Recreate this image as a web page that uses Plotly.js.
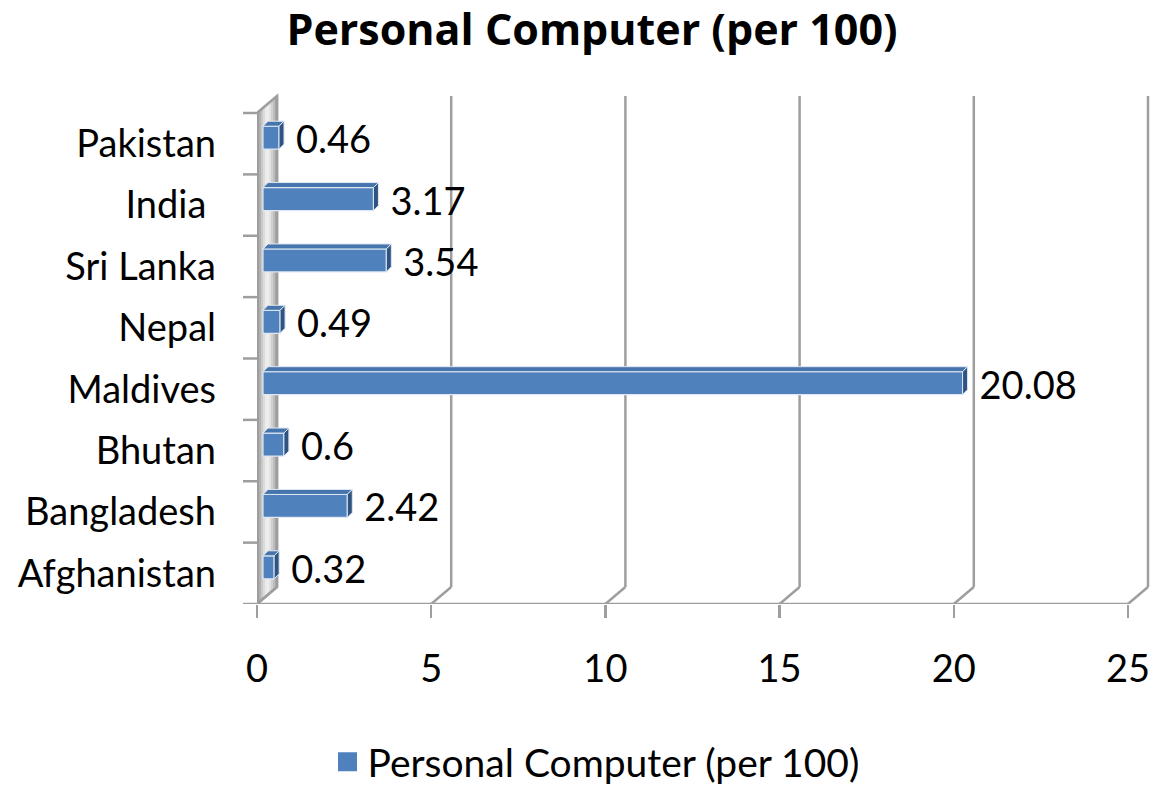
<!DOCTYPE html>
<html>
<head>
<meta charset="utf-8">
<script src="https://cdn.plot.ly/plotly-3.0.1.min.js"></script>
<style>
  html, body { margin: 0; padding: 0; background: #ffffff; }
  #chart { width: 1160px; height: 786px; }
</style>
</head>
<body>
<div id="chart"></div>
<script>
// Personal computers per 100 people, South Asian countries
const categories = ['Afghanistan', 'Bangladesh', 'Bhutan', 'Maldives', 'Nepal', 'Sri Lanka', 'India\u00a0', 'Pakistan'];
const values = [0.32, 2.42, 0.6, 20.08, 0.49, 3.54, 3.17, 0.46];
const xTicks = [0, 5, 10, 15, 20, 25];
const seriesName = 'Personal Computer (per 100)';

// Page and plot-area geometry (pixels)
const W = 1160, H = 786;
const M = { l: 257, r: 0, t: 90, b: 182, autoexpand: false };
const plotW = W - M.l - M.r, plotH = H - M.t - M.b;
const nCat = categories.length;
const xMax = xTicks[xTicks.length - 1];
const PX_X = 871 / xMax;          // pixels per x unit on the front floor edge
const PX_Y = 491 / nCat;          // pixels per category slot
const ux = p => p / PX_X;         // pixel offset -> x data units
const uy = p => p / PX_Y;         // pixel offset -> category units

// Pseudo-3D depth offsets (pixels)
const WALL_DX = 20, WALL_DY = 17;      // back wall
const BAR_DX = 6, BAR_DY = 6;          // bar front face
const SIDE_DX = 5, SIDE_DY = 5;        // bar top/side thickness
const BAR_H = 23;                      // bar front face height

const yLo = -0.5, yHi = nCat - 0.5;
const grid = '#9e9e9e';
const REG = 'Lato, sans-serif';
const BLUE = '#4f81bd';

const shapes = [];

// Left wall, shaded in vertical strips
const wallCols = ['#999999', '#b0b0b0', '#c8c8c8', '#dcdcdc', '#ebebeb', '#eeeeee', '#e2e2e2', '#d0d0d0', '#bdbdbd', '#a8a8a8'];
const dxW = ux(WALL_DX), dyW = uy(WALL_DY);
wallCols.forEach((c, s) => {
  const f0 = s / wallCols.length, f1 = (s + 1) / wallCols.length;
  const x0 = dxW * f0, x1 = dxW * f1;
  shapes.push({
    type: 'path', xref: 'x', yref: 'y', layer: 'below',
    path: `M${x0},${yLo + f0 * dyW} L${x1},${yLo + f1 * dyW} L${x1},${yHi + f1 * dyW} L${x0},${yHi + f0 * dyW} Z`,
    fillcolor: c, line: { width: 0 }
  });
});
// wall outline
shapes.push({
  type: 'path', xref: 'x', yref: 'y', layer: 'below',
  path: `M0,${yLo} L0,${yHi} L${dxW},${yHi + dyW} L${dxW},${yLo + dyW} Z`,
  fillcolor: 'rgba(0,0,0,0)', line: { color: grid, width: 2.5 }
});

// Back-wall gridlines and floor diagonals
xTicks.forEach(t => {
  shapes.push({
    type: 'line', xref: 'x', yref: 'y', layer: 'below',
    x0: t + dxW, x1: t + dxW, y0: yLo + dyW, y1: yHi + dyW,
    line: { color: grid, width: 2.5 }
  });
  shapes.push({
    type: 'line', xref: 'x', yref: 'y', layer: 'below',
    x0: t, x1: t + dxW, y0: yLo, y1: yLo + dyW,
    line: { color: grid, width: 2.5 }
  });
});
// Front floor edge
shapes.push({
  type: 'line', xref: 'x', yref: 'y', layer: 'below',
  x0: 0, x1: xMax, y0: yLo, y1: yLo,
  line: { color: grid, width: 2.5 }
});
// Front left edge
shapes.push({
  type: 'line', xref: 'x', yref: 'y', layer: 'below',
  x0: 0, x1: 0, y0: yLo, y1: yHi,
  line: { color: grid, width: 3.5 }
});
// Category-boundary ticks on the left edge
for (let k = 0; k <= nCat; k++) {
  shapes.push({
    type: 'line', xref: 'paper', yref: 'y', layer: 'below',
    x0: -14 / plotW, x1: 0, y0: yLo + k, y1: yLo + k,
    line: { color: grid, width: 2.5 }
  });
}

// Bars
const idx = categories.map((_, i) => i);
const bx0 = ux(BAR_DX);
const barY = idx.map(i => i + uy(BAR_DY));
const hh = uy(BAR_H) / 2;
const sdx = ux(SIDE_DX), sdy = uy(SIDE_DY);

const topX = [], topY = [], sideX = [], sideY = [];
values.forEach((v, i) => {
  const yt = barY[i] + hh, yb = barY[i] - hh, xe = bx0 + v;
  topX.push(bx0, xe, xe + sdx, bx0 + sdx, bx0, null);
  topY.push(yt, yt, yt + sdy, yt + sdy, yt, null);
  sideX.push(xe, xe, xe + sdx, xe + sdx, xe, null);
  sideY.push(yb, yt, yt + sdy, yb + sdy, yb, null);
});

const traces = [
  {
    type: 'bar', orientation: 'h', name: seriesName,
    x: values, y: barY, base: bx0, width: uy(BAR_H),
    marker: { color: BLUE, line: { color: '#dfe8f3', width: 1.2 } },
    hoverinfo: 'skip', showlegend: false
  },
  {
    type: 'scatter', mode: 'lines', x: topX, y: topY, fill: 'toself',
    fillcolor: '#4675ad', line: { color: '#dfe8f3', width: 1 },
    hoverinfo: 'skip', showlegend: false
  },
  {
    type: 'scatter', mode: 'lines', x: sideX, y: sideY, fill: 'toself',
    fillcolor: '#2f5482', line: { color: '#dfe8f3', width: 1 },
    hoverinfo: 'skip', showlegend: false
  },
  {
    type: 'scatter', mode: 'text',
    x: values.map(v => bx0 + v + sdx + ux(12)), y: idx,
    text: values.map(v => String(v)), textposition: 'middle right',
    textfont: { family: REG, size: 38, color: '#000000' },
    cliponaxis: false, hoverinfo: 'skip', showlegend: false
  },
  // legend key for the bar series
  {
    type: 'scatter', mode: 'markers', name: seriesName,
    x: [null], y: [null],
    marker: { symbol: 'square', size: 16, color: BLUE, line: { color: BLUE, width: 3 } },
    hoverinfo: 'skip', showlegend: true
  }
];

const layout = {
  width: W, height: H,
  margin: M,
  paper_bgcolor: '#ffffff', plot_bgcolor: 'rgba(0,0,0,0)',
  font: { family: REG, color: '#000000' },
  title: {
    text: '<b>' + seriesName + '</b>',
    font: { family: '"Open Sans", sans-serif', size: 43, color: '#000000' },
    x: 592 / W, xanchor: 'center', xref: 'container',
    y: 1 - 30 / H, yanchor: 'middle', yref: 'container'
  },
  xaxis: {
    type: 'linear', autorange: false,
    range: [0, plotW / PX_X], fixedrange: true,
    tickmode: 'array', tickvals: xTicks, ticktext: xTicks.map(String),
    ticks: 'outside', ticklen: 13, tickwidth: 2.5, tickcolor: grid,
    ticklabelstandoff: 18,
    tickfont: { family: REG, size: 38, color: '#000000' },
    showgrid: false, zeroline: false, showline: false
  },
  yaxis: {
    type: 'linear', autorange: false,
    range: [yLo, yLo + plotH / PX_Y], fixedrange: true,
    tickmode: 'array', tickvals: idx, ticktext: categories,
    ticks: '', ticklabelstandoff: 40,
    tickfont: { family: REG, size: 38, color: '#000000' },
    showgrid: false, zeroline: false, showline: false
  },
  showlegend: true,
  legend: {
    orientation: 'h', x: (596 - M.l) / plotW, xanchor: 'center',
    y: -(762 - (H - M.b)) / plotH, yanchor: 'middle',
    font: { family: REG, size: 39, color: '#000000' },
    itemsizing: 'trace',
    bgcolor: 'rgba(0,0,0,0)'
  },
  shapes: shapes,
  bargap: 0
};

Plotly.newPlot('chart', traces, layout, { displayModeBar: false, staticPlot: true });
</script>
</body>
</html>
